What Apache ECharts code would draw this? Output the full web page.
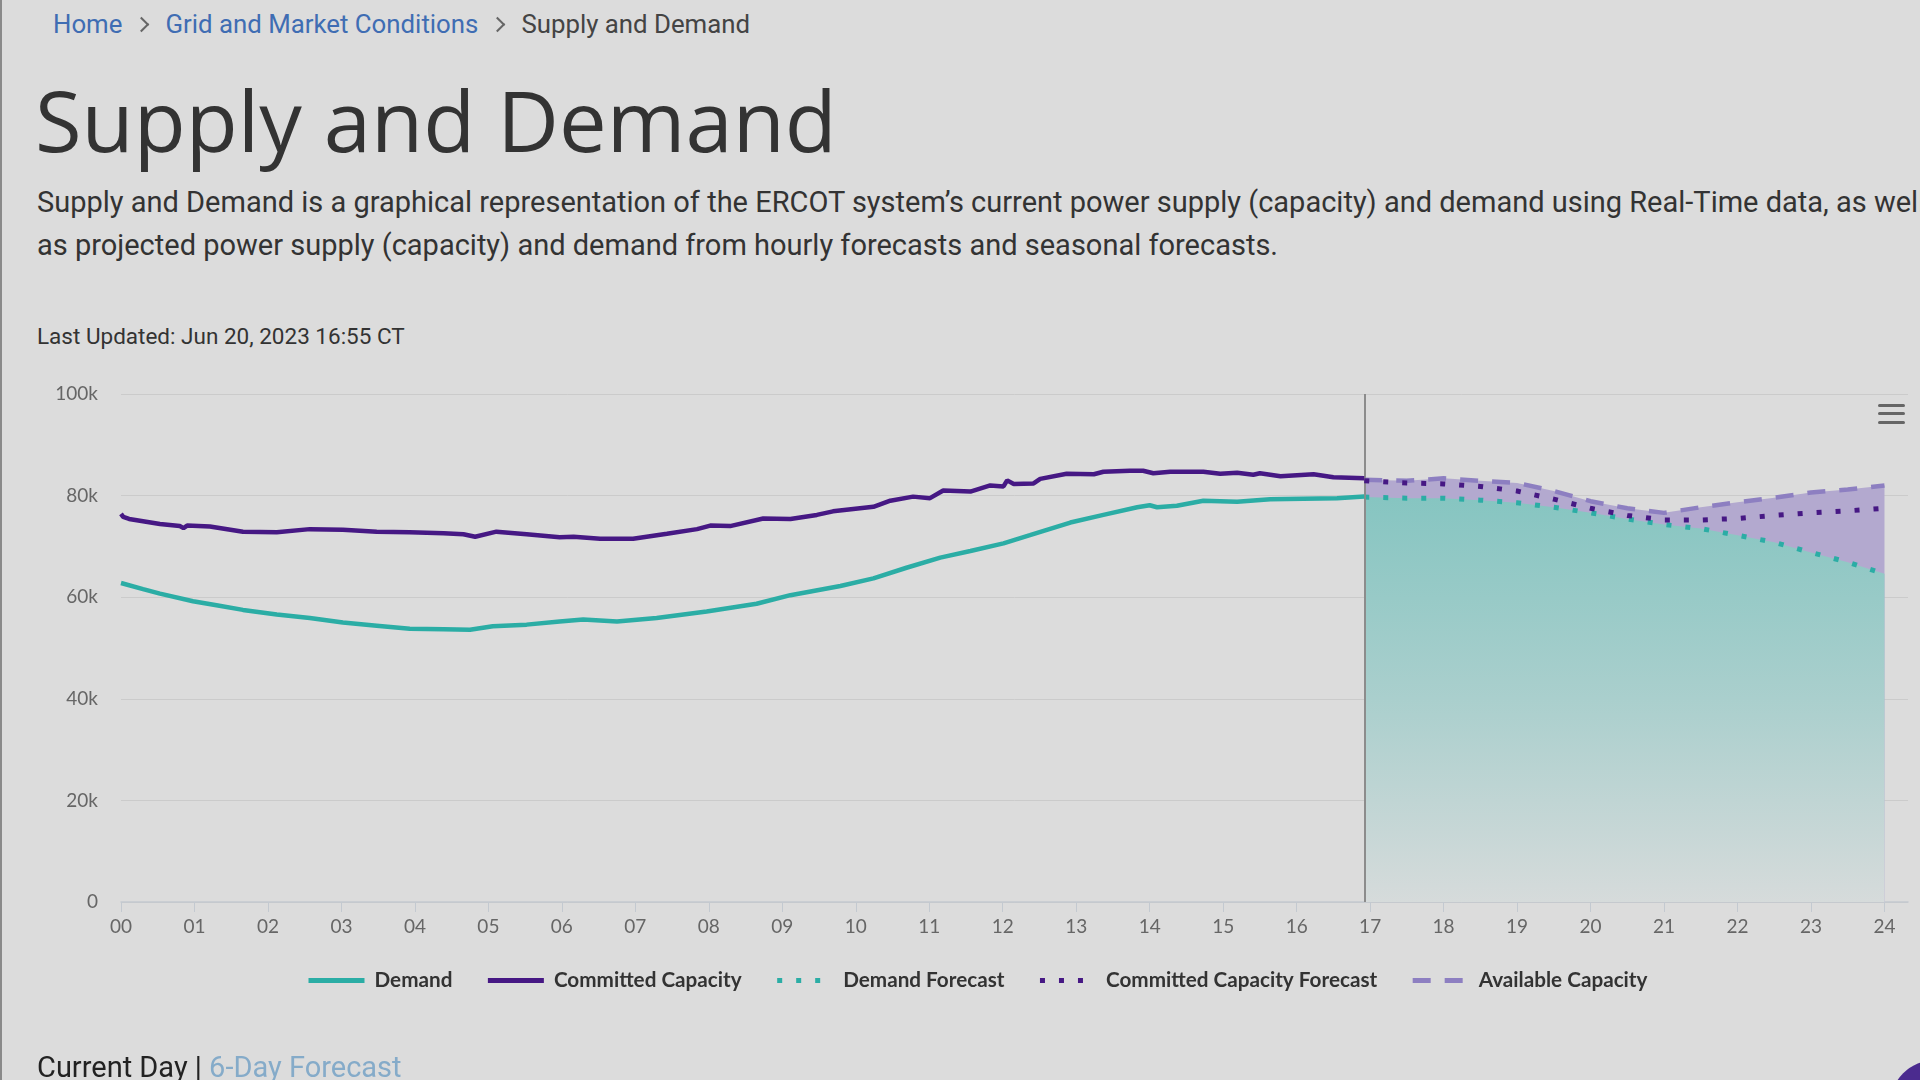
<!DOCTYPE html>
<html>
<head>
<meta charset="utf-8">
<script src="https://cdn.jsdelivr.net/npm/echarts@6/dist/echarts.min.js"></script>
<style>
html,body{margin:0;padding:0;width:1920px;height:1080px;overflow:hidden;background:#dcdcdc;}
body{position:relative;font-family:Roboto,"Noto Sans",sans-serif;color:#333;}
.abs{position:absolute;white-space:nowrap;}
#leftEdge{left:0;top:0;width:2px;height:1080px;background:#8a8a8a;}
#crumbs{left:53px;top:9px;font-size:25.8px;line-height:30px;color:#444;}
#crumbs .lnk{color:#3f6db3;}
#crumbs .sep{display:inline-block;width:9px;height:9px;border-right:2px solid #666;border-top:2px solid #666;transform:rotate(45deg);margin:0 18.5px 0 13.5px;position:relative;top:-3px;}
#title{left:35px;top:69px;font-family:"Open Sans",sans-serif;font-size:85px;line-height:100px;color:#333;font-weight:400;}
#desc{left:37px;top:181px;font-size:29px;line-height:43px;color:#333;}
#updated{left:37px;top:323px;font-size:22.5px;line-height:26px;color:#333;}
#bottomTabs{left:37px;top:1050px;font-size:29px;line-height:34px;color:#222;}
#bottomTabs .lnk{color:#85abc9;}
#chart{left:0;top:0;width:1920px;height:1080px;}
.bar{position:absolute;left:1878px;width:27px;height:3px;background:#666;border-radius:2px;}
#chat{left:1890px;top:1060px;width:90px;height:90px;border-radius:50%;background:#4b2b8f;}
</style>
</head>
<body>
<div id="leftEdge" class="abs"></div>
<div id="crumbs" class="abs"><span class="lnk">Home</span><span class="sep"></span><span class="lnk">Grid and Market Conditions</span><span class="sep"></span><span>Supply and Demand</span></div>
<div id="title" class="abs">Supply and Demand</div>
<div id="desc" class="abs">Supply and Demand is a graphical representation of the ERCOT system’s current power supply (capacity) and demand using Real-Time data, as well<br>as projected power supply (capacity) and demand from hourly forecasts and seasonal forecasts.</div>
<div id="updated" class="abs">Last Updated: Jun 20, 2023 16:55 CT</div>
<div id="chart" class="abs"></div>
<div class="bar" style="top:404px"></div>
<div class="bar" style="top:412px"></div>
<div class="bar" style="top:421px"></div>
<div id="bottomTabs" class="abs">Current Day | <span class="lnk">6-Day Forecast</span></div>
<div id="chat" class="abs"></div>
<script>
// ---- data (thousand MW) ----
const lastUpdatedTime = "16:55";
const hourTicks = [0,1,2,3,4,5,6,7,8,9,10,11,12,13,14,15,16,17,18,19,20,21,22,23,24];

const demandHours = [0.0,0.3,0.53,0.98,1.3,1.66,2.12,2.57,3.02,3.48,3.93,4.39,4.75,5.06,5.52,5.97,6.29,6.75,7.29,7.97,8.65,9.11,9.79,10.24,10.69,11.15,11.56,12.01,12.37,12.92,13.37,13.83,14.0,14.1,14.37,14.73,15.19,15.64,16.09,16.55,16.92];
const demandActual = [62.8,61.6,60.7,59.2,58.4,57.5,56.6,55.9,55.0,54.4,53.8,53.7,53.6,54.3,54.6,55.2,55.6,55.2,55.9,57.2,58.7,60.4,62.2,63.7,65.8,67.8,69.1,70.6,72.2,74.7,76.2,77.7,78.1,77.7,78.0,79.0,78.8,79.3,79.4,79.5,79.8];

const committedHours = [0.0,0.03,0.11,0.53,0.8,0.85,0.9,1.21,1.66,2.12,2.57,3.02,3.48,3.93,4.39,4.66,4.82,5.11,5.52,5.97,6.16,6.52,6.97,7.43,7.84,8.02,8.29,8.74,9.11,9.47,9.69,10.24,10.47,10.78,11.01,11.19,11.56,11.83,12.01,12.06,12.15,12.42,12.51,12.87,13.24,13.37,13.73,13.91,14.05,14.28,14.73,14.96,15.19,15.41,15.5,15.78,16.23,16.5,16.92];
const committedActual = [76.4,75.8,75.4,74.4,74.0,73.6,74.1,73.9,72.9,72.8,73.4,73.3,72.9,72.8,72.6,72.4,71.9,72.9,72.4,71.8,71.9,71.5,71.5,72.5,73.4,74.1,74.0,75.5,75.4,76.2,76.9,77.8,79.0,79.8,79.5,81.0,80.8,82.0,81.8,83.0,82.3,82.4,83.3,84.3,84.2,84.7,84.9,84.9,84.4,84.7,84.7,84.3,84.5,84.1,84.4,83.8,84.2,83.6,83.4];

const forecastHours = [16.92,17.5,18,18.5,19,19.5,20,20.5,21,21.5,22,22.5,23,23.5,24];
const demandForecast = [79.7,79.5,79.5,79.1,78.6,77.7,76.6,75.4,74.3,73.5,72.2,70.8,68.8,66.9,64.6];
const committedForecast = [82.9,82.5,82.3,81.8,80.9,79.3,77.5,76.1,75.2,75.2,75.5,76.1,76.6,77.0,77.5];
const availableCapacity = [83.1,82.9,83.4,82.9,82.5,80.9,78.9,77.5,76.6,77.7,78.7,79.6,80.6,81.2,82.0];

// ---- styles ----
const TEAL = '#2bada5';
const PURPLE = '#461884';
const AVAIL = '#8d7fc1';

const zip = (xs, ys) => xs.map((x, i) => [x, ys[i]]);
const [uh, um] = lastUpdatedTime.split(':').map(Number);
const currentHour = uh + um / 60;

const chart = echarts.init(document.getElementById('chart'), null, {renderer: 'canvas'});
const axisFont = {fontFamily: 'Lato, sans-serif', fontSize: 19, color: '#666'};

chart.setOption({
  animation: false,
  backgroundColor: 'transparent',
  grid: {left: 121, right: 12, top: 394, bottom: 178},
  legend: {
    left: 301, top: 965,
    itemWidth: 56, itemHeight: 14, itemGap: 33,
    itemStyle: {opacity: 0},
    lineStyle: {width: 5},
    textStyle: {fontFamily: 'Lato, sans-serif', fontWeight: 'bold', fontSize: 20.7, color: '#333', padding: [0,0,0,5]},
    data: ['Demand', 'Committed Capacity', 'Demand Forecast', 'Committed Capacity Forecast', 'Available Capacity']
  },
  xAxis: {
    type: 'value', min: 0, max: 24.32,
    axisLine: {show: true, lineStyle: {color: '#c3c9d0', width: 1.5}},
    axisTick: {show: true, customValues: hourTicks, length: 10, lineStyle: {color: '#c3c9d0', width: 1}},
    axisLabel: Object.assign({customValues: hourTicks, margin: 15, formatter: v => String(v).padStart(2, '0')}, axisFont),
    splitLine: {show: false}
  },
  yAxis: {
    type: 'value', min: 0, max: 100, interval: 20,
    axisLine: {show: false}, axisTick: {show: false},
    axisLabel: Object.assign({margin: 23, formatter: v => v === 0 ? '0' : v + 'k'}, axisFont),
    splitLine: {lineStyle: {color: '#cbcbcb', width: 1}}
  },
  series: [
    {
      name: 'Demand', type: 'line', symbol: 'none', z: 6,
      data: zip(demandHours, demandActual),
      lineStyle: {color: TEAL, width: 4.5}, itemStyle: {color: TEAL},
      markLine: {
        silent: true, symbol: ['none', 'none'], label: {show: false},
        lineStyle: {color: '#8c8c8c', width: 2, type: 'solid'},
        data: [{xAxis: currentHour}]
      }
    },
    {
      name: 'Committed Capacity', type: 'line', symbol: 'none', z: 6,
      data: zip(committedHours, committedActual),
      lineStyle: {color: PURPLE, width: 4.5}, itemStyle: {color: PURPLE}
    },
    {
      name: 'Demand Forecast', type: 'line', symbol: 'none', z: 4,
      data: zip(forecastHours, demandForecast),
      lineStyle: {color: TEAL, width: 5, type: [5, 14]}, itemStyle: {color: TEAL},
      areaStyle: {opacity: 1, color: new echarts.graphic.LinearGradient(0, 0, 0, 1, [
        {offset: 0, color: '#86c5c1'}, {offset: 0.5, color: '#aacfcd'}, {offset: 1, color: '#d6dbdb'}
      ])}
    },
    {
      name: 'Committed Capacity Forecast', type: 'line', symbol: 'none', z: 5,
      data: zip(forecastHours, committedForecast),
      lineStyle: {color: PURPLE, width: 5, type: [5, 14]}, itemStyle: {color: PURPLE}
    },
    {
      name: 'Available Capacity', type: 'line', symbol: 'none', z: 3,
      data: zip(forecastHours, availableCapacity),
      lineStyle: {color: AVAIL, width: 4.5, type: [18, 14]}, itemStyle: {color: AVAIL},
      areaStyle: {opacity: 1, color: '#b3a9cf'}
    }
  ]
});
</script>
</body>
</html>
